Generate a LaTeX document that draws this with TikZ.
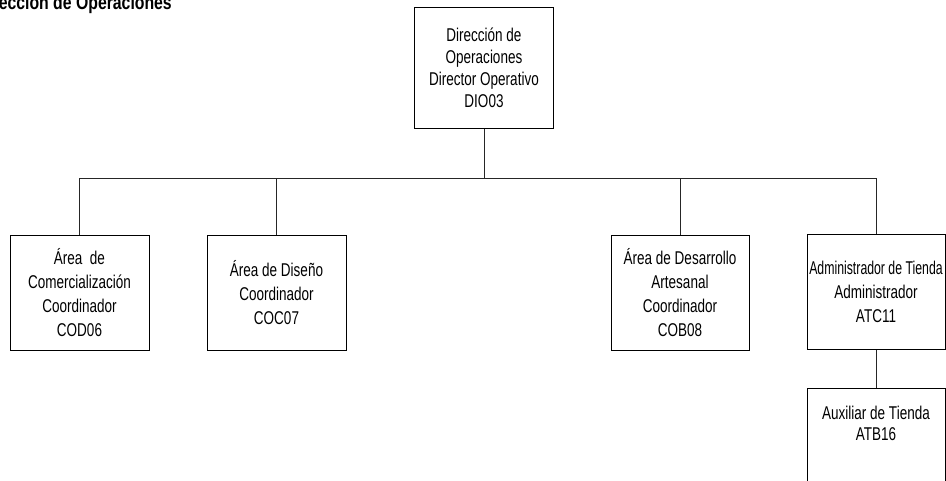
\documentclass[tikz,border=0pt]{standalone}
\usepackage{graphicx}
\usepackage{fontspec}
\newfontfamily\orgfont[FakeStretch=0.73]{Liberation Sans}
\newfontfamily\orgtitlefont[FakeStretch=0.79]{Liberation Sans}
\begin{document}
\begin{tikzpicture}[x=1pt,y=-1pt,
  unitbox/.style={draw=black, line width=1pt, minimum width=139pt,
    minimum height=115pt, inner sep=0pt, align=center,
    font=\orgfont\fontsize{18.5}{24}\selectfont},
  link/.style={draw=black!85, line width=1pt}]
\useasboundingbox (0,0) rectangle (946,480);

% page heading, partly outside the page
\node[anchor=base east, inner sep=0pt, font=\orgtitlefont\bfseries\fontsize{20}{22}\selectfont]
  (heading) at (172,9.5) {Dirección de Operaciones};

% head of the department
\node[unitbox, minimum height=121.5pt, font=\orgfont\fontsize{18.5}{22}\selectfont]
  (dir) at (484,68) {Dirección de\\Operaciones\\Director Operativo\\DIO03};

% areas reporting to the director
\node[unitbox] (com) at (79.5,292.5) {Área~ de\\Comercialización\\Coordinador\\COD06};
\node[unitbox] (dis) at (276.5,292.5) {Área de Diseño\\Coordinador\\COC07};
\node[unitbox, minimum width=138pt] (art) at (680,292.5) {Área de Desarrollo\\Artesanal\\Coordinador\\COB08};
\node[unitbox, minimum width=138pt] (adm) at (876,292) {\scalebox{0.91}[1]{Administrador de Tienda}\\Administrador\\ATC11};

% store assistant, below the store administrator
\node[unitbox, minimum width=138pt, anchor=north] (aux) at (876,388) {};
\node[font=\orgfont\fontsize{18.5}{21}\selectfont, align=center, inner sep=0pt]
  (auxtext) at (876,423) {Auxiliar de Tienda\\ATB16};

% connectors
\coordinate (hub) at (484,178);
\draw[link] (dir.south) -- (hub);
\draw[link] (hub) -| (com.north);
\draw[link] (hub) -| (dis.north);
\draw[link] (hub) -| (art.north);
\draw[link] (hub) -| (adm.north);
\draw[link] (adm.south) -- (aux.north);
\end{tikzpicture}
\end{document}
